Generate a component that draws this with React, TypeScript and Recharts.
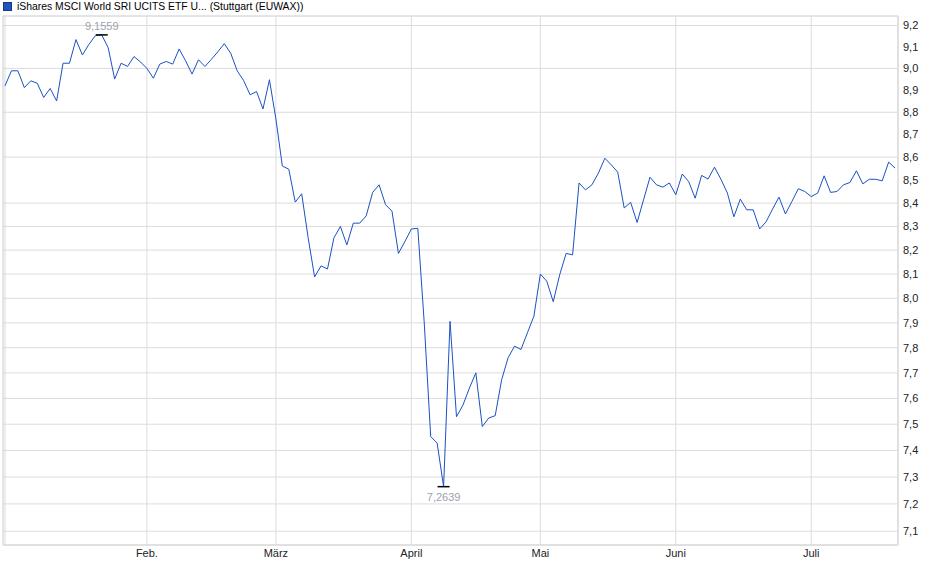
import { LineChart, Line, XAxis, YAxis, CartesianGrid, ReferenceArea } from 'recharts';

// closing prices per trading day (2 Jan - 18 Jul)
const jan = [
  8.92, 8.989, 8.989, 8.912, 8.943, 8.932, 8.867, 8.908, 8.851, 9.024, 9.024,
  9.134, 9.062, 9.111, 9.152, 9.1559, 9.096, 8.951, 9.024, 9.009, 9.055, 9.03,
];
const feb = [
  9.0, 8.955, 9.02, 9.032, 9.02, 9.09, 9.035, 8.974, 9.04, 9.009, 9.042, 9.077,
  9.115, 9.07, 8.989, 8.944, 8.879, 8.894, 8.815, 8.948,
];
const mar = [
  8.77, 8.561, 8.547, 8.404, 8.44, 8.252, 8.088, 8.134, 8.121, 8.252, 8.3,
  8.222, 8.314, 8.314, 8.345, 8.446, 8.479, 8.393, 8.365, 8.186, 8.236,
];
const apr = [
  8.289, 8.292, 7.9, 7.453, 7.428, 7.2639, 7.906, 7.529, 7.574, 7.64, 7.7,
  7.491, 7.524, 7.533, 7.673, 7.76, 7.806, 7.793, 7.86, 7.927,
];
const may = [
  8.1, 8.07, 7.986, 8.097, 8.186, 8.18, 8.487, 8.457, 8.479, 8.53, 8.595,
  8.566, 8.534, 8.379, 8.403, 8.317, 8.414, 8.512, 8.479, 8.469, 8.487,
];
const jun = [
  8.436, 8.526, 8.493, 8.421, 8.52, 8.504, 8.556, 8.503, 8.443, 8.341, 8.417,
  8.371, 8.371, 8.289, 8.32, 8.374, 8.426, 8.353, 8.407, 8.462, 8.45,
];
const jul = [
  8.428, 8.443, 8.518, 8.446, 8.45, 8.479, 8.489, 8.54, 8.483, 8.503, 8.503,
  8.496, 8.578, 8.552,
];

const months = [jan, feb, mar, apr, may, jun, jul];
const monthLabels = ['', 'Feb.', 'März', 'April', 'Mai', 'Juni', 'Juli'];
const yTicks = [
  7.1, 7.2, 7.3, 7.4, 7.5, 7.6, 7.7, 7.8, 7.9, 8.0, 8.1, 8.2, 8.3, 8.4, 8.5,
  8.6, 8.7, 8.8, 8.9, 9.0, 9.1, 9.2,
];
const title = 'iShares MSCI World SRI UCITS ETF U... (Stuttgart (EUWAX))';

const data: { i: number; value: number }[] = [];
const monthStarts: number[] = [];
months.forEach((m) => {
  monthStarts.push(data.length);
  m.forEach((v) => data.push({ i: data.length, value: v }));
});

const values = data.map((d) => d.value);
const maxIdx = values.indexOf(Math.max(...values));
const minIdx = values.indexOf(Math.min(...values));

const X_DOMAIN: [number, number] = [-0.31, 138.45];
const Y_DOMAIN: [number, number] = [7.05, 9.245];
const LINE = '#1a52c2';
const GRID = '#dcdcdc';
const FONT = 'Arial, "Liberation Sans", sans-serif';

const fmt = (v: number, d = 1) => v.toFixed(d).replace('.', ',');

function ExtremeDot(props: any) {
  const { cx, cy, index } = props;
  if (index !== maxIdx && index !== minIdx) return <g key={`d${index}`} />;
  const isMax = index === maxIdx;
  return (
    <g key={`d${index}`}>
      <line x1={cx - 6} x2={cx + 6} y1={cy} y2={cy} stroke="#000" strokeWidth={1.5} />
      <text
        x={cx}
        y={isMax ? cy - 4.5 : cy + 14.5}
        textAnchor="middle"
        fontSize={11}
        fontFamily={FONT}
        fill="#9aa3ae"
      >
        {fmt(values[index], 4)}
      </text>
    </g>
  );
}

export default function App() {
  return (
    <div style={{ position: 'absolute', left: 0, top: 0, width: 940, height: 579, background: '#fff', fontFamily: FONT }}>
      <div style={{ position: 'absolute', left: 3, top: 0, display: 'flex', alignItems: 'center', height: 13, fontSize: 10.4, color: '#000', whiteSpace: 'nowrap' }}>
        <span style={{ display: 'inline-block', width: 7, height: 7, background: '#1f55b8', border: '1px solid #123a85', marginRight: 5 }} />
        {title}
      </div>
      <LineChart width={940} height={579} data={data} margin={{ top: 16, right: 0, left: 3, bottom: 0 }}>
        <CartesianGrid stroke={GRID} strokeWidth={1} />
        <ReferenceArea
          x1={X_DOMAIN[0]}
          x2={X_DOMAIN[1]}
          y1={Y_DOMAIN[0]}
          y2={Y_DOMAIN[1]}
          fill="none"
          stroke={GRID}
          ifOverflow="visible"
        />
        <XAxis
          dataKey="i"
          type="number"
          domain={X_DOMAIN}
          ticks={monthStarts}
          tickFormatter={(v) => monthLabels[monthStarts.indexOf(v)] ?? ''}
          height={34}
          tickLine={false}
          tickSize={0}
          tickMargin={4}
          axisLine={{ stroke: GRID }}
          tick={{ fill: '#222', fontSize: 11, fontFamily: FONT }}
          allowDataOverflow
        />
        <YAxis
          orientation="right"
          scale="log"
          domain={Y_DOMAIN}
          ticks={yTicks}
          tickFormatter={(v) => fmt(v)}
          width={42}
          tickLine={false}
          tickSize={0}
          tickMargin={5}
          axisLine={{ stroke: GRID }}
          tick={{ fill: '#222', fontSize: 11, fontFamily: FONT, textAnchor: 'start' }}
          allowDataOverflow
        />
        <Line
          type="linear"
          dataKey="value"
          name={title}
          stroke={LINE}
          strokeWidth={1}
          dot={ExtremeDot}
          activeDot={false}
          isAnimationActive={false}
        />
      </LineChart>
    </div>
  );
}
